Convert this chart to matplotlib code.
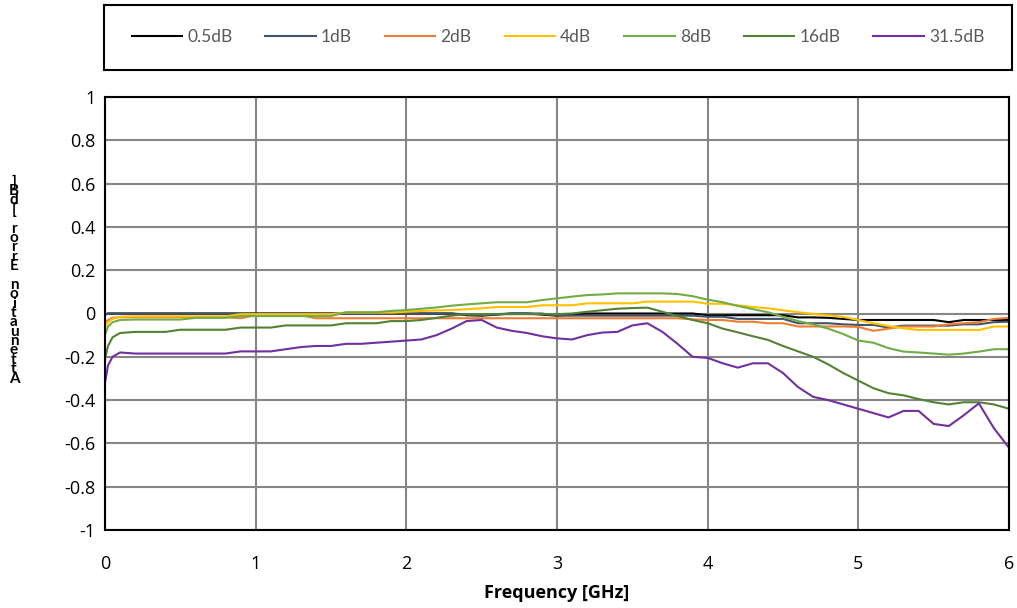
import matplotlib
matplotlib.use("Agg")
import matplotlib.pyplot as plt
import numpy as np

freq = [0, 0.02, 0.05] + [round(0.1 * i, 1) for i in range(1, 61)]

s05 = [-0.005, 0, 0,
       0, 0, 0, 0, 0, 0, 0, 0, 0, 0,
       0, 0, 0, 0, 0, 0, 0, 0, 0, 0,
       0, 0, 0, -0.008, -0.01, -0.005, 0, 0, -0.005, -0.01,
       -0.005, 0, 0, 0, 0, 0, 0, 0, 0, -0.008,
       -0.008, -0.008, -0.008, -0.008, -0.008, -0.018, -0.018, -0.02, -0.025, -0.03,
       -0.03, -0.03, -0.03, -0.03, -0.03, -0.04, -0.03, -0.03, -0.03, -0.03]

s1 = [-0.005, 0, 0,
      0, 0, 0, 0, 0, 0, 0, 0, 0, 0,
      0, 0, 0, 0, 0, 0, 0, 0, 0, 0,
      0, 0, 0, -0.005, -0.008, -0.003, 0, 0, 0, -0.01,
      -0.01, -0.01, -0.01, -0.01, -0.01, -0.01, -0.01, -0.01, -0.01, -0.015,
      -0.015, -0.025, -0.025, -0.025, -0.025, -0.045, -0.045, -0.045, -0.05, -0.053,
      -0.053, -0.065, -0.056, -0.056, -0.056, -0.056, -0.05, -0.05, -0.04, -0.038]

s2 = [-0.04, -0.03, -0.02,
      -0.017, -0.017, -0.017, -0.017, -0.017, -0.017, -0.017, -0.017, -0.022, -0.008,
      -0.008, -0.008, -0.008, -0.022, -0.022, -0.022, -0.022, -0.022, -0.022, -0.022,
      -0.022, -0.022, -0.022, -0.022, -0.022, -0.022, -0.022, -0.022, -0.022, -0.022,
      -0.022, -0.022, -0.022, -0.022, -0.022, -0.022, -0.022, -0.022, -0.027, -0.03,
      -0.03, -0.038, -0.038, -0.045, -0.045, -0.06, -0.06, -0.06, -0.06, -0.062,
      -0.08, -0.07, -0.06, -0.06, -0.06, -0.05, -0.045, -0.04, -0.025, -0.02]

s4 = [-0.06, -0.04, -0.025,
      -0.015, -0.013, -0.013, -0.013, -0.013, -0.013, -0.013, -0.013, -0.003, -0.003,
      -0.003, -0.003, -0.003, -0.003, -0.003, 0.004, 0.004, 0.004, 0.004, 0.008,
      0.012, 0.014, 0.016, 0.02, 0.024, 0.03, 0.03, 0.03, 0.038, 0.038,
      0.038, 0.047, 0.047, 0.047, 0.047, 0.055, 0.055, 0.055, 0.055, 0.045,
      0.045, 0.038, 0.03, 0.024, 0.015, 0.006, -0.002, -0.008, -0.016, -0.03,
      -0.045, -0.058, -0.068, -0.076, -0.076, -0.076, -0.076, -0.076, -0.06, -0.06]

s8 = [-0.1, -0.06, -0.04,
      -0.03, -0.028, -0.028, -0.028, -0.028, -0.02, -0.02, -0.02, -0.012, -0.012,
      -0.012, -0.012, -0.012, -0.012, -0.012, 0.006, 0.006, 0.006, 0.012, 0.016,
      0.022, 0.028, 0.036, 0.042, 0.047, 0.052, 0.052, 0.052, 0.062, 0.07,
      0.078, 0.085, 0.088, 0.093, 0.093, 0.093, 0.093, 0.09, 0.08, 0.064,
      0.052, 0.035, 0.02, 0.006, -0.015, -0.035, -0.05, -0.07, -0.095, -0.125,
      -0.135, -0.16, -0.176, -0.18, -0.185, -0.19, -0.185, -0.176, -0.165, -0.165]

s16 = [-0.21, -0.15, -0.11,
       -0.09, -0.085, -0.085, -0.085, -0.075, -0.075, -0.075, -0.075, -0.065, -0.065,
       -0.065, -0.055, -0.055, -0.055, -0.055, -0.045, -0.045, -0.045, -0.035, -0.035,
       -0.03, -0.02, -0.01, -0.003, -0.003, -0.003, -0.003, -0.003, -0.003, -0.003,
       0.0, 0.008, 0.015, 0.022, 0.025, 0.027, 0.008, -0.012, -0.03, -0.045,
       -0.07, -0.087, -0.105, -0.122, -0.15, -0.175, -0.2, -0.235, -0.275, -0.31,
       -0.345, -0.368, -0.378, -0.395, -0.41, -0.42, -0.41, -0.41, -0.42, -0.44]

s315 = [-0.32, -0.24, -0.2,
        -0.18, -0.185, -0.185, -0.185, -0.185, -0.185, -0.185, -0.185, -0.175, -0.175,
        -0.175, -0.165, -0.155, -0.15, -0.15, -0.14, -0.14, -0.135, -0.13, -0.125,
        -0.12, -0.1, -0.07, -0.035, -0.03, -0.065, -0.08, -0.09, -0.105, -0.115,
        -0.12, -0.1, -0.088, -0.085, -0.055, -0.045, -0.085, -0.14, -0.2, -0.205,
        -0.23, -0.25, -0.23, -0.23, -0.275, -0.34, -0.385, -0.4, -0.42, -0.44,
        -0.46, -0.48, -0.45, -0.45, -0.51, -0.52, -0.47, -0.415, -0.53, -0.62]

labels = ["0.5dB", "1dB", "2dB", "4dB", "8dB", "16dB", "31.5dB"]
series = [s05, s1, s2, s4, s8, s16, s315]
colors = ["#000000", "#44546A", "#ED7D31", "#FFC000", "#70AD47", "#548235", "#7030A0"]

xticks = [0, 1, 2, 3, 4, 5, 6]
yticks = [-1, -0.8, -0.6, -0.4, -0.2, 0, 0.2, 0.4, 0.6, 0.8, 1]
ytick_labels = ["-1", "-0.8", "-0.6", "-0.4", "-0.2", "0", "0.2", "0.4", "0.6", "0.8", "1"]

plt.rcParams['font.family'] = ['Open Sans', 'DejaVu Sans']

W, H = 1017, 608
fig = plt.figure(figsize=(W / 100, H / 100), dpi=100)
ax = fig.add_axes([105 / W, 1 - 530 / H, 904 / W, 433 / H])

lines = []
for s, lab, c in zip(series, labels, colors):
    ln, = ax.plot(freq, s, color=c, lw=1.5, label=lab, solid_joinstyle='round')
    lines.append(ln)

ax.set_xlim(0, 6)
ax.set_ylim(-1, 1)
ax.set_xticks(xticks)
ax.set_yticks(yticks)
ax.set_yticklabels(ytick_labels)
ax.grid(True, color="#868686", lw=1.5)
ax.set_axisbelow(True)
ax.tick_params(length=0, labelsize=13, colors="#000000")
ax.tick_params(axis="y", pad=7)
ax.tick_params(axis="x", pad=18)
for sp in ax.spines.values():
    sp.set_color("#000000")
    sp.set_linewidth(1.5)
ax.set_xlabel("Frequency [GHz]", fontsize=13, fontweight="bold", labelpad=8)

# stacked y label
ylab = "Attenuation Error [dB]"
fig.text(14 / W, 1 - 280 / H, "\n".join(reversed(ylab)), ha="center", va="center",
         fontsize=11, fontweight="bold", linespacing=0.58,
         family=['Lato', 'DejaVu Sans'])

# legend box
lax = fig.add_axes([104 / W, 1 - 70 / H, 908 / W, 65 / H])
lax.set_xticks([])
lax.set_yticks([])
for sp in lax.spines.values():
    sp.set_color("#000000")
    sp.set_linewidth(1.5)
leg = lax.legend(lines, labels, loc="center", ncol=7, frameon=False,
                 prop={'family': ['Lato', 'DejaVu Sans'], 'size': 12.5},
                 handlelength=2.9, handletextpad=0.3,
                 columnspacing=1.9, labelcolor="#595959")

fig.savefig("out.png", dpi=100)
